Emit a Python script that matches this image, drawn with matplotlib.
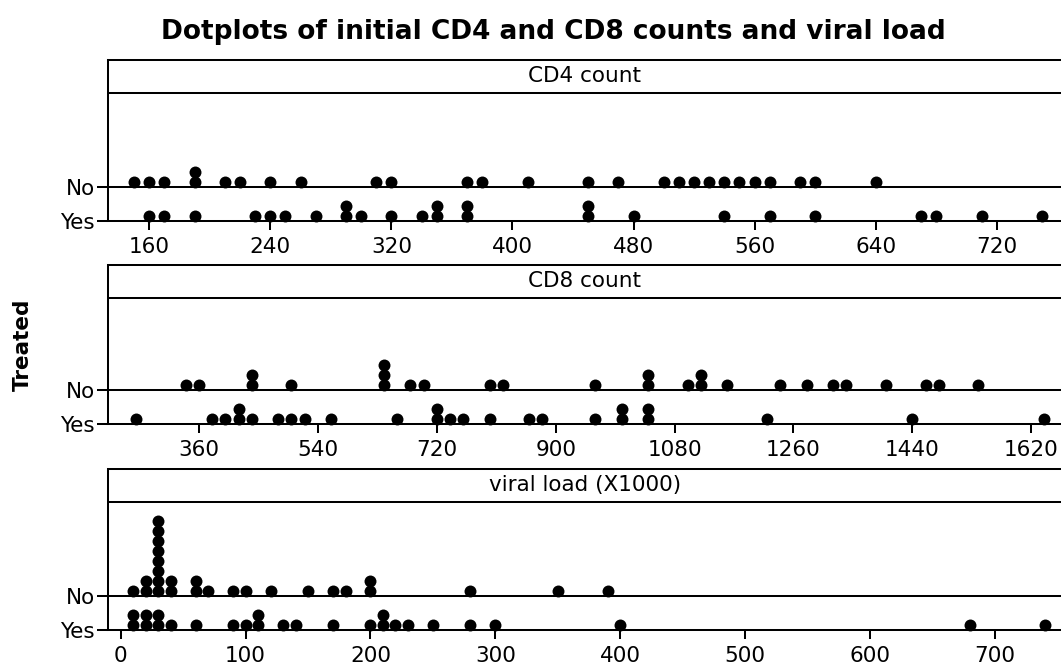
import matplotlib
matplotlib.use("Agg")
import matplotlib.pyplot as plt
from collections import Counter

# values (bin centres)
cd4_no = [150, 160, 170, 190, 190, 210, 220, 240, 260, 310, 320, 370, 380, 410,
          450, 470, 500, 510, 520, 530, 540, 550, 560, 570, 590, 600, 640]
cd4_yes = [160, 170, 190, 230, 240, 250, 270, 290, 290, 300, 320, 340, 350, 350,
           370, 370, 450, 450, 480, 540, 570, 600, 670, 680, 710, 750]

cd8_no = [340, 360, 440, 440, 500, 640, 640, 640, 680, 700, 800, 820,
          960, 1040, 1040, 1100, 1120, 1120, 1160, 1240, 1280, 1320, 1340,
          1400, 1460, 1480, 1540]
cd8_yes = [265, 380, 400, 420, 420, 440, 480, 500, 520, 560, 660, 720, 720,
           740, 760, 800, 860, 880, 960, 1000, 1000, 1040, 1040, 1220, 1440, 1640]

vl_no = [10, 20, 20, 30, 30, 30, 30, 30, 30, 30, 30, 40, 40, 60, 60, 70, 90,
         100, 120, 150, 170, 180, 200, 200, 280, 350, 390]
vl_yes = [10, 10, 20, 20, 30, 30, 40, 60, 90, 100, 110, 110, 130, 140, 170,
          200, 210, 210, 220, 230, 250, 280, 300, 400, 680, 740]

titles = ["CD4 count", "CD8 count", "viral load (X1000)"]
xticks = [[160, 240, 320, 400, 480, 560, 640, 720],
          [360, 540, 720, 900, 1080, 1260, 1440, 1620],
          [0, 100, 200, 300, 400, 500, 600, 700]]
xlims = [(132.9, 762.5), (222.7, 1665), (-9.9, 752.8)]
groups = [(cd4_no, cd4_yes), (cd8_no, cd8_yes), (vl_no, vl_yes)]

W, H = 1061, 672
LEFT = 108.3
# (top, bottom) of each panel in pixels
panel_px = [(60, 220.7), (265, 424), (469, 630)]
NO_Y = 34      # height of the "No" line above the "Yes" line, px
LW = 1.45

fig = plt.figure(figsize=(W / 100, H / 100), dpi=100)

for i in range(3):
    top, bot = panel_px[i]
    h = bot - top
    ax = fig.add_axes([LEFT / W, 1 - bot / H, (W - LEFT) / W, h / H])
    ax.set_xlim(*xlims[i])
    ax.set_ylim(0, h)

    no_vals, yes_vals = groups[i]
    for base, vals in [(NO_Y, no_vals), (0, yes_vals)]:
        xs, ys = [], []
        for v, n in Counter(vals).items():
            for k in range(n):
                xs.append(v)
                ys.append(base + 5 + 10 * k)
        ax.plot(xs, ys, 'o', color='black', ms=8.6, mew=0, clip_on=False)

    ax.axhline(NO_Y, color='black', lw=LW)
    ax.axhline(h - 32.5, color='black', lw=LW)
    ax.text(0.5, h - 16, titles[i], transform=ax.get_yaxis_transform(),
            ha='center', va='center', fontsize=15.5)

    for s in ['left', 'top', 'bottom']:
        ax.spines[s].set_linewidth(LW)
    ax.spines['right'].set_visible(False)

    ax.set_xticks(xticks[i])
    ax.set_yticks([0, NO_Y])
    ax.set_yticklabels(['Yes', 'No'])
    ax.tick_params(axis='x', direction='out', length=6.5, width=LW, pad=5,
                   labelsize=15.5)
    ax.tick_params(axis='y', direction='out', length=8, width=LW, pad=1.5,
                   labelsize=15.5)

fig.text(23 / W, 1 - 345 / H, "Treated", rotation=90, ha='center', va='center',
         fontsize=15.5, fontweight='bold')
fig.text(553 / W, 1 - 32 / H, "Dotplots of initial CD4 and CD8 counts and viral load",
         ha='center', va='center', fontsize=19, fontweight='bold')

fig.savefig("out.png", dpi=100)
